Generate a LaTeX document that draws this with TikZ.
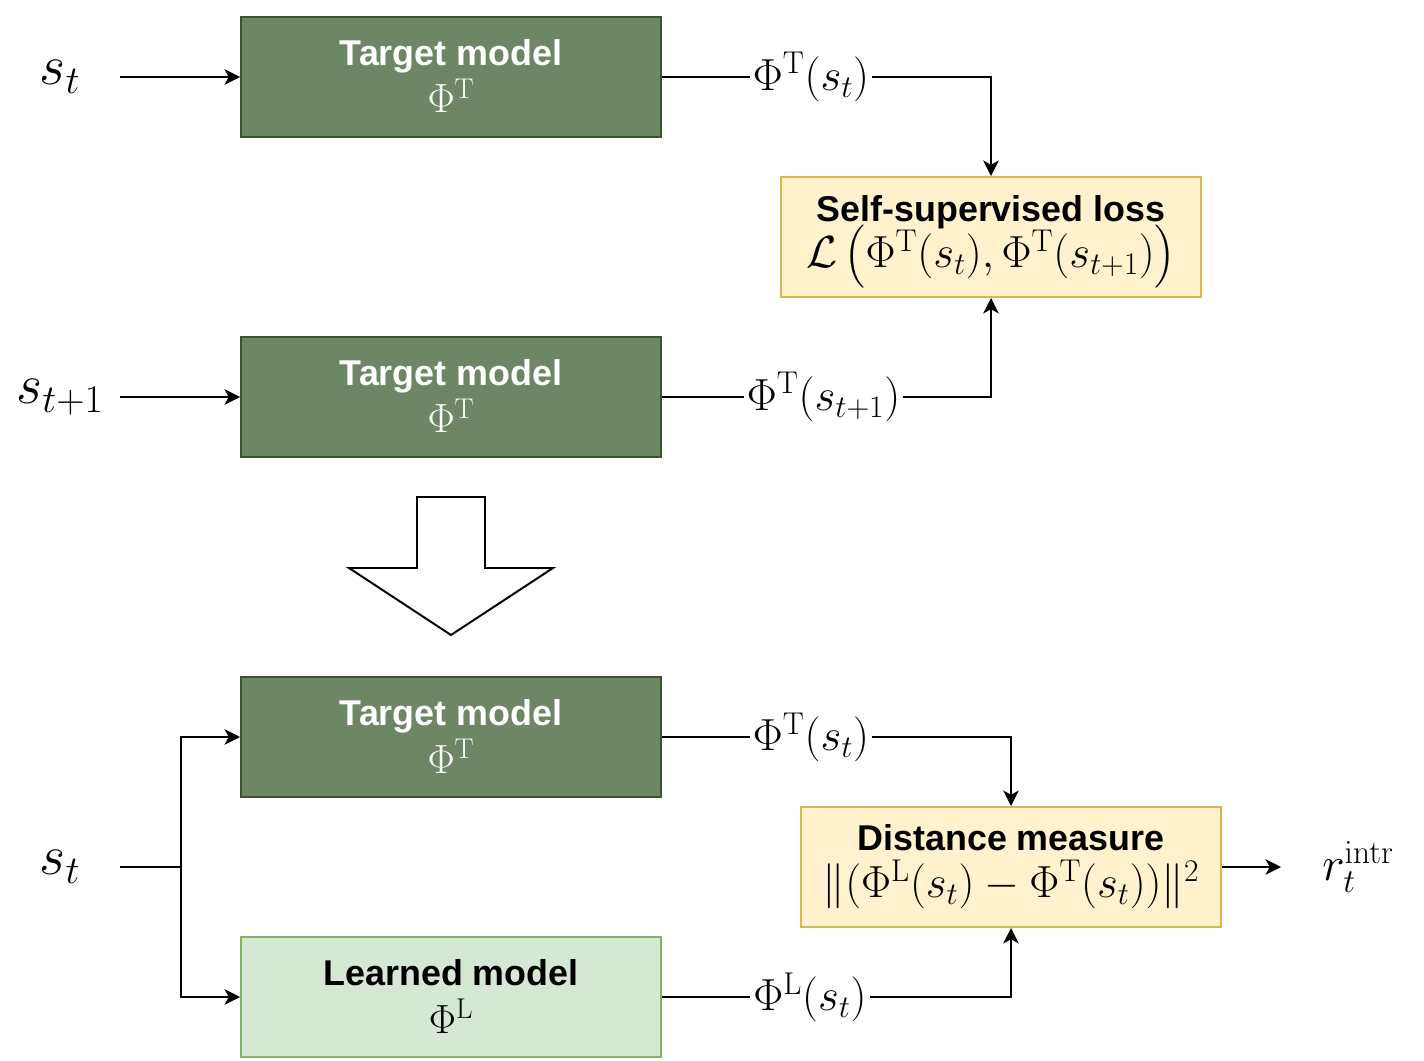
\RequirePackage{fix-cm}
\documentclass[tikz,border=0pt]{standalone}
\usepackage{amsmath}
\usepackage[no-math]{fontspec}
\newfontfamily\boxfont{Liberation Sans}
\definecolor{RNDTargetFill}{HTML}{6D8764}
\definecolor{RNDTargetLine}{HTML}{3A5431}
\definecolor{RNDLearnFill}{HTML}{D5E8D4}
\definecolor{RNDLearnLine}{HTML}{82B366}
\definecolor{RNDLossFill}{HTML}{FFF2CC}
\definecolor{RNDLossLine}{HTML}{D6B656}
\usetikzlibrary{arrows.meta,positioning}

\begin{document}
\begin{tikzpicture}[
    >={Stealth[length=11pt,width=11pt,inset=3pt]},
    conn/.style={line width=1.4pt},
    target/.style={draw=RNDTargetLine,fill=RNDTargetFill,line width=1.4pt,minimum width=10.5cm,minimum height=3cm,inner sep=0pt,align=center,text=white,text height=51.2pt,text depth=0pt,font=\boxfont\bfseries\fontsize{25.5}{30.5}\selectfont},
    learned/.style={target,draw=RNDLearnLine,fill=RNDLearnFill,text=black},
    lossbox/.style={target,draw=RNDLossLine,fill=RNDLossFill,text=black,text height=44pt},
    state/.style={minimum width=3cm,inner sep=0pt,font=\fontsize{40}{44}\selectfont},
    feat/.style={fill=white,inner sep=2pt,font=\fontsize{32}{36}\selectfont}
  ]
  \useasboundingbox (0,0) rectangle (35.6,-26.5);

  % model boxes
  \node[target] (tgtA) at (11.275,-1.925) {Target model\\[3pt]{\fontsize{29}{32}\selectfont$\Phi^{\mathrm{T}}$}};
  \node[target] (tgtB) at (11.275,-9.925) {Target model\\[3pt]{\fontsize{29}{32}\selectfont$\Phi^{\mathrm{T}}$}};
  \node[target] (tgtC) at (11.275,-18.425) {Target model\\[3pt]{\fontsize{29}{32}\selectfont$\Phi^{\mathrm{T}}$}};
  \node[learned] (lrn) at (11.275,-24.925) {Learned model\\[3pt]{\fontsize{29}{32}\selectfont$\Phi^{\mathrm{L}}$}};
  \node[lossbox] (loss) at (24.775,-5.925) {Self-supervised loss\\[-4pt]{\fontsize{32}{36}\selectfont$\mathcal{L}\left(\Phi^{\mathrm{T}}(s_t),\Phi^{\mathrm{T}}(s_{t+1})\right)$}};
  \node[lossbox] (dist) at (25.275,-21.675) {Distance measure\\[3pt]{\fontsize{32}{36}\selectfont$\|(\Phi^{\mathrm{L}}(s_t)-\Phi^{\mathrm{T}}(s_t))\|^2$}};

  % states and reward
  \node[state] (sA) at (1.5,-1.925) {$s_t$};
  \node[state] (sB) at (1.5,-9.925) {$s_{t+1}$};
  \node[state] (sC) at (1.5,-21.675) {$s_t$};
  \node[state,minimum width=0pt,font=\fontsize{34}{38}\selectfont] (rint) at (33.95,-21.675) {$r_t^{\mathrm{intr}}$};
  \coordinate (split) at (4.525,-21.675);
  \coordinate (rend) at (32.025,-21.675);

  % features on the connectors
  \node[feat] (fA) at (20.275,-1.925) {$\Phi^{\mathrm{T}}(s_t)$};
  \node[feat] (fB) at (20.59,-9.925) {$\Phi^{\mathrm{T}}(s_{t+1})$};
  \node[feat] (fC) at (20.275,-18.425) {$\Phi^{\mathrm{T}}(s_t)$};
  \node[feat] (fD) at (20.25,-24.925) {$\Phi^{\mathrm{L}}(s_t)$};

  \draw[conn,->] (sA) -- (tgtA);
  \draw[conn,->] (sB) -- (tgtB);
  \draw[conn] (sC) -- (split);
  \draw[conn,->] (split) |- (tgtC);
  \draw[conn,->] (split) |- (lrn);
  \draw[conn] (tgtA) -- (fA);
  \draw[conn,->] (fA) -| (loss);
  \draw[conn] (tgtB) -- (fB);
  \draw[conn,->] (fB) -| (loss);
  \draw[conn] (tgtC) -- (fC);
  \draw[conn,->] (fC) -| (dist);
  \draw[conn] (lrn) -- (fD);
  \draw[conn,->] (fD) -| (dist);
  \draw[conn,->] (dist) -- (rend);

  % big down arrow
  \draw[line width=1.4pt,fill=white] (10.425,-12.425) -- (12.125,-12.425) -- (12.125,-14.2) -- (13.825,-14.2) -- (11.275,-15.875) -- (8.725,-14.2) -- (10.425,-14.2) -- cycle;
\end{tikzpicture}
\end{document}
